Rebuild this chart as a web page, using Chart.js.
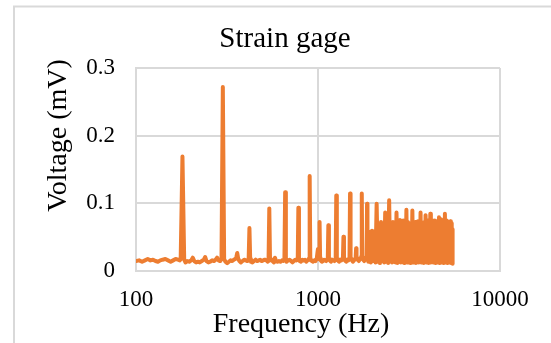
<!DOCTYPE html>
<html>
<head>
<meta charset="utf-8">
<title>Strain gage</title>
<script src="https://cdn.jsdelivr.net/npm/chart.js@4.4.1/dist/chart.umd.min.js"></script>
<style>
  html, body { margin: 0; padding: 0; background: #ffffff; }
  #wrap { position: relative; width: 551px; height: 343px; }
  canvas { display: block; }
</style>
</head>
<body>
<div id="wrap"><canvas id="chart" width="551" height="343"></canvas></div>
<script>
// Spectrum of the strain gage signal: frequency (Hz) and voltage (mV)
const freqHz = [
  100, 104, 108, 112, 116, 120, 124, 128, 132, 136, 140, 145, 150, 155, 160, 165, 170, 174,
  176, 180, 184, 187, 191, 196, 201, 205, 209, 214, 219, 224, 230, 236, 240, 244, 250, 256,
  262, 268, 274, 279, 284, 290, 295, 300, 305, 310, 317, 324, 331, 338, 345, 352, 356, 360,
  364, 370, 377, 385, 393, 401, 409, 414, 416, 420, 424, 428, 436, 445, 454, 463, 472, 481,
  490, 500, 510, 520, 530, 535, 540, 545, 552, 562, 573, 580, 588, 598, 610, 622, 634, 645,
  652, 654, 660, 666, 672, 685, 698, 711, 724, 737, 750, 762, 772, 774, 780, 786, 793, 806,
  820, 834, 848, 862, 876, 890, 893, 900, 907, 913, 926, 940, 955, 970, 985, 995, 1000, 1005,
  1012, 1013, 1020, 1027, 1035, 1050, 1065, 1080, 1095, 1110, 1125, 1132, 1140, 1148, 1160, 1178,
  1196, 1214, 1232, 1248, 1251, 1260, 1269, 1285, 1305, 1325, 1345, 1362, 1371, 1380, 1389, 1405,
  1428, 1450, 1472, 1488, 1490, 1500, 1510, 1530, 1555, 1578, 1600, 1612, 1620, 1628, 1650, 1675,
  1700, 1722, 1730, 1740, 1750, 1770, 1795, 1820, 1845, 1850, 1860, 1870,
  1890, 1920, 1950, 1980, 2010, 2040, 2070, 2100, 2130, 2160, 2190, 2220, 2250, 2280, 2310, 2340,
  2370, 2400, 2430, 2460, 2490, 2520, 2550, 2580, 2610, 2640, 2670, 2700, 2730, 2760, 2790, 2820,
  2850, 2880, 2910, 2940, 2970, 3000, 3030, 3060, 3090, 3120, 3150, 3180, 3210, 3240, 3270, 3300,
  3330, 3360, 3390, 3420, 3450, 3480, 3510, 3540, 3570, 3600, 3630, 3660, 3690, 3720, 3750, 3780,
  3810, 3840, 3870, 3900, 3930, 3960, 3990, 4020, 4050, 4080, 4110, 4140, 4170, 4200, 4230, 4260,
  4290, 4320, 4350, 4380, 4410, 4440, 4470, 4500, 4530, 4560, 4590, 4620, 4650, 4680, 4710, 4740,
  4770, 4800, 4830, 4860, 4890, 4920, 4950, 4980, 5010, 5040, 5070, 5100, 5130, 5160, 5190, 5220,
  5250, 5280, 5310, 5340, 5370, 5400, 5430, 5460, 5490
];

const voltageMv = [
  0.014, 0.015, 0.013, 0.015, 0.017, 0.015, 0.016, 0.014, 0.013, 0.015, 0.016, 0.017, 0.015, 0.013, 0.015, 0.017, 0.016, 0.015,
  0.017, 0.169, 0.016, 0.012, 0.014, 0.013, 0.015, 0.019, 0.014, 0.012, 0.013, 0.012, 0.014, 0.016, 0.020, 0.014, 0.012, 0.013,
  0.015, 0.014, 0.016, 0.019, 0.015, 0.014, 0.017, 0.272, 0.017, 0.013, 0.011, 0.013, 0.015, 0.014, 0.016, 0.017, 0.020, 0.026,
  0.018, 0.014, 0.012, 0.014, 0.016, 0.015, 0.014, 0.016, 0.018, 0.063, 0.017, 0.013, 0.012, 0.014, 0.016, 0.014, 0.015, 0.016,
  0.014, 0.015, 0.016, 0.015, 0.013, 0.016, 0.092, 0.015, 0.017, 0.014, 0.012, 0.019, 0.014, 0.013, 0.014, 0.013, 0.015, 0.014,
  0.016, 0.017, 0.116, 0.017, 0.013, 0.015, 0.016, 0.014, 0.012, 0.014, 0.016, 0.015, 0.016, 0.018, 0.093, 0.016, 0.014, 0.013,
  0.016, 0.015, 0.016, 0.013, 0.015, 0.017, 0.018, 0.140, 0.017, 0.015, 0.014, 0.013, 0.015, 0.014, 0.018, 0.028, 0.032, 0.022,
  0.017, 0.019, 0.072, 0.018, 0.015, 0.013, 0.014, 0.016, 0.015, 0.014, 0.017, 0.019, 0.067, 0.019, 0.015, 0.013,
  0.016, 0.015, 0.014, 0.017, 0.019, 0.111, 0.019, 0.015, 0.013, 0.016, 0.015, 0.017, 0.020, 0.050, 0.019, 0.015,
  0.013, 0.016, 0.015, 0.018, 0.020, 0.114, 0.020, 0.016, 0.013, 0.015, 0.018, 0.022, 0.033, 0.021, 0.016, 0.014,
  0.017, 0.019, 0.021, 0.114, 0.021, 0.016, 0.014, 0.018, 0.021, 0.023, 0.099, 0.024,
  0.013, 0.057, 0.012, 0.059, 0.014, 0.058, 0.012, 0.099, 0.013, 0.066, 0.011, 0.072, 0.014, 0.069, 0.012, 0.086,
  0.013, 0.072, 0.011, 0.104, 0.014, 0.070, 0.012, 0.072, 0.013, 0.068, 0.012, 0.086, 0.011, 0.073, 0.013, 0.075,
  0.012, 0.071, 0.014, 0.074, 0.011, 0.066, 0.013, 0.090, 0.012, 0.072, 0.014, 0.057, 0.011, 0.070, 0.013, 0.089,
  0.012, 0.069, 0.013, 0.072, 0.011, 0.071, 0.014, 0.073, 0.012, 0.068, 0.013, 0.086, 0.012, 0.071, 0.014, 0.070,
  0.011, 0.072, 0.013, 0.082, 0.012, 0.069, 0.014, 0.074, 0.011, 0.071, 0.013, 0.084, 0.012, 0.072, 0.014, 0.074,
  0.012, 0.070, 0.013, 0.074, 0.011, 0.068, 0.014, 0.073, 0.012, 0.071, 0.013, 0.079, 0.011, 0.070, 0.014, 0.076,
  0.012, 0.072, 0.013, 0.075, 0.011, 0.069, 0.014, 0.084, 0.012, 0.071, 0.013, 0.074, 0.011, 0.070, 0.014, 0.072,
  0.012, 0.072, 0.013, 0.073, 0.011, 0.070, 0.012, 0.061, 0.010
];

const xTickValues = [100, 1000, 10000];
const xTickLabels = ['100', '1000', '10000'];
const yTickValues = [0, 0.1, 0.2, 0.3];
const yTickLabels = ['0', '0.1', '0.2', '0.3'];

const chartTitle = 'Strain gage';
const xTitle = 'Frequency (Hz)';
const yTitle = 'Voltage (mV)';

const SERIF = '"Liberation Serif", "Times New Roman", Times, serif';
const INK = '#000000';
const GRID = '#d9d9d9';
const LINE = '#ED7D31';

const points = freqHz.map((f, i) => ({ x: f, y: voltageMv[i] }));

// Background, outer frame and the three captions
const captions = {
  id: 'captions',
  beforeDraw(chart) {
    const ctx = chart.ctx;
    ctx.save();
    ctx.fillStyle = '#ffffff';
    ctx.fillRect(0, 0, chart.width, chart.height);
    ctx.strokeStyle = GRID;
    ctx.lineWidth = 2;
    ctx.strokeRect(14, 6.5, 700, 500);
    ctx.restore();
  },
  afterDraw(chart) {
    const ctx = chart.ctx;
    ctx.save();
    ctx.fillStyle = INK;
    ctx.textAlign = 'center';
    ctx.textBaseline = 'alphabetic';

    ctx.font = '29px ' + SERIF;
    ctx.fillText(chartTitle, 285, 47);

    ctx.font = '28px ' + SERIF;
    ctx.fillText(xTitle, 301, 332);

    ctx.translate(66, 135.5);
    ctx.rotate(-Math.PI / 2);
    ctx.fillText(yTitle, 0, 0);
    ctx.restore();
  }
};

new Chart(document.getElementById('chart'), {
  type: 'line',
  data: {
    datasets: [{
      data: points,
      borderColor: LINE,
      backgroundColor: LINE,
      borderWidth: 4,
      borderJoinStyle: 'round',
      borderCapStyle: 'round',
      pointRadius: 0,
      tension: 0,
      fill: false
    }]
  },
  options: {
    responsive: false,
    animation: false,
    events: [],
    layout: { padding: { left: 0, right: 51, top: 68, bottom: 0 } },
    plugins: {
      legend: { display: false },
      tooltip: { enabled: false },
      title: { display: false }
    },
    scales: {
      x: {
        type: 'logarithmic',
        min: 100,
        max: 10000,
        afterBuildTicks: s => { s.ticks = xTickValues.map(v => ({ value: v })); },
        afterFit: s => { s.height = 72.5; },
        grid: { color: GRID, lineWidth: 2, drawTicks: false },
        border: { color: GRID, width: 2 },
        ticks: {
          font: { family: SERIF, size: 23 },
          color: INK,
          padding: 16,
          maxRotation: 0,
          autoSkip: false,
          callback: (v, i) => xTickLabels[i]
        }
      },
      y: {
        type: 'linear',
        min: 0,
        max: 0.3,
        afterBuildTicks: s => { s.ticks = yTickValues.map(v => ({ value: v })); },
        afterFit: s => { s.width = 136; },
        grid: { color: GRID, lineWidth: 2, drawTicks: false },
        border: { color: GRID, width: 2 },
        ticks: {
          font: { family: SERIF, size: 23 },
          color: INK,
          padding: 21,
          callback: (v, i) => yTickLabels[i]
        }
      }
    }
  },
  plugins: [captions]
});
</script>
</body>
</html>
